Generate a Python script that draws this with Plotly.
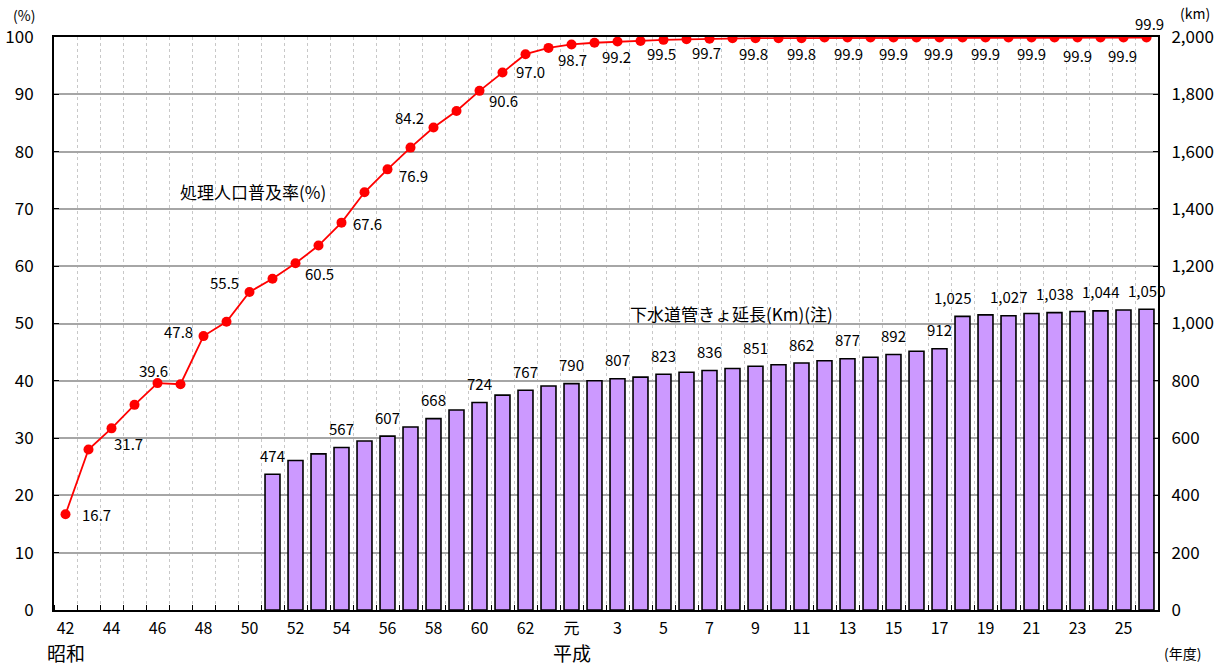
import plotly.graph_objects as go

# ---- data ----
categories = [str(y) for y in range(42, 64)] + ["元"] + [str(y) for y in range(2, 27)]

coverage_pct = [16.7, 28.0, 31.7, 35.8, 39.6, 39.4, 47.8, 50.3, 55.5, 57.8,
                60.5, 63.6, 67.6, 72.9, 76.9, 80.7, 84.2, 87.1, 90.6, 93.8,
                97.0, 98.1, 98.7, 99.0, 99.2, 99.3, 99.5, 99.6, 99.7, 99.8,
                99.8, 99.8, 99.8, 99.9, 99.9, 99.9, 99.9, 99.9, 99.9, 99.9,
                99.9, 99.9, 99.9, 99.9, 99.9, 99.9, 99.9, 99.9]

pipe_categories = [str(y) for y in range(51, 64)] + ["元"] + [str(y) for y in range(2, 27)]
pipe_km = [474, 522, 545, 567, 590, 607, 639, 668, 698, 724, 750, 767, 782,
           790, 800, 807, 813, 823, 830, 836, 843, 851, 856, 862, 870, 877,
           882, 892, 903, 912, 1025, 1030, 1027, 1035, 1038, 1042, 1044, 1047, 1050]

coverage_labeled = ["42", "44", "46", "48", "50", "52", "54", "56", "58", "60", "62",
                    "元", "3", "5", "7", "9", "11", "13", "15", "17", "19", "21", "23", "25", "26"]
pipe_labeled = ["51", "54", "56", "58", "60", "62", "元", "3", "5", "7", "9", "11",
                "13", "15", "17", "18", "20", "22", "24", "26"]

era_labels = {"42": "昭和", "元": "平成"}
line_name = "処理人口普及率(%)"
bar_name = "下水道管きょ延長(Km)(注)"

# ---- styling (label offsets in px) ----
coverage_offsets = [(31, 0), (17, -15), (-4, 13), (-25, 5), (-25, 9), (24, -10), (26, -1),
                    (26, -6), (-24, 10), (24, -10), (5, -17), (1, -15), (-1, -15), (-2, -14),
                    (-3, -14), (-2, -15), (0, -15), (1, -16), (0, -16), (-1, -16), (0, -16),
                    (0, -16), (0, -18), (-1, -18), (3, 14)]
pipe_xshift = {"18": -10}

FONT = "Noto Sans CJK JP"
idx = {c: i for i, c in enumerate(categories)}
x_all = list(range(len(categories)))
x_pipe = [idx[c] for c in pipe_categories]


def txt(size):
    return dict(size=size, color="black", family=FONT)


fig = go.Figure()
fig.add_trace(go.Bar(x=x_pipe, y=pipe_km, yaxis="y", width=0.65,
                     marker=dict(color="#CC99FF", line=dict(color="black", width=1.6)),
                     name=bar_name, showlegend=False, hoverinfo="x+y"))
fig.add_trace(go.Scatter(x=x_all, y=coverage_pct, yaxis="y2", mode="lines+markers",
                         line=dict(color="#FF0000", width=1.8),
                         marker=dict(color="#FF0000", size=10),
                         name=line_name, showlegend=False))

C = dict(showarrow=False, xanchor="center", yanchor="middle")
ann = []
for c, (dx, dy) in zip(coverage_labeled, coverage_offsets):
    i = idx[c]
    ann.append(dict(x=i, y=coverage_pct[i], xref="x", yref="y2", text=f"{coverage_pct[i]:.1f}",
                    xshift=dx, yshift=dy, font=txt(15), **C))
for c in pipe_labeled:
    j = pipe_categories.index(c)
    ann.append(dict(x=idx[c], y=pipe_km[j], xref="x", yref="y", text=f"{pipe_km[j]:,}",
                    xshift=pipe_xshift.get(c, 0), yshift=19, font=txt(15), **C))
for c, t in era_labels.items():
    ann.append(dict(x=idx[c], y=-0.075, xref="x", yref="paper", text=t, font=txt(19), **C))
ann += [
    dict(x=-0.027, y=1.038, xref="paper", yref="paper", text="(%)", font=txt(14), **C),
    dict(x=1.0335, y=1.042, xref="paper", yref="paper", text="(km)", font=txt(14), **C),
    dict(x=1.0226, y=-0.075, xref="paper", yref="paper", text="(年度)", font=txt(14), **C),
    dict(x=0.180, y=0.731, xref="paper", yref="paper", text=line_name, font=txt(17), **C),
    dict(x=0.614, y=0.518, xref="paper", yref="paper", text=bar_name, font=txt(17), **C),
]

fig.update_layout(
    width=1230, height=665,
    margin=dict(l=54, r=72, t=37, b=55, autoexpand=False),
    paper_bgcolor="white", plot_bgcolor="white",
    font=dict(family=FONT, size=15, color="black"),
    showlegend=False,
    bargap=0.35,
    annotations=ann,
    xaxis=dict(
        range=[-0.5, len(categories) - 0.5], automargin=False,
        tickmode="array", tickvals=x_all[::2], ticktext=categories[::2],
        ticks="", showgrid=False, zeroline=False,
        showline=True, linecolor="black", linewidth=2, mirror=True,
        tickfont=dict(size=16, family=FONT), ticklabelstandoff=3,
        minor=dict(tickmode="linear", tick0=-0.5, dtick=1, ticks="inside", ticklen=5,
                   tickcolor="black", showgrid=True, gridcolor="#c8c8c8",
                   griddash="dot", gridwidth=1),
    ),
    yaxis=dict(
        side="right", range=[0, 2000], dtick=200, tickformat=",", automargin=False,
        showgrid=True, gridcolor="#a6a6a6", gridwidth=1.5, zeroline=False,
        showline=True, linecolor="black", linewidth=2,
        ticks="inside", ticklen=5, tickcolor="black",
        tickfont=dict(size=17, family=FONT), ticklabelstandoff=8,
    ),
    yaxis2=dict(
        side="left", overlaying="y", range=[0, 100], dtick=10, automargin=False,
        showgrid=False, zeroline=False,
        showline=True, linecolor="black", linewidth=2,
        ticks="inside", ticklen=5, tickcolor="black",
        tickfont=dict(size=17, family=FONT), ticklabelstandoff=15,
    ),
)

fig.write_html("out.html", config={"displayModeBar": False},
               post_script="document.body.style.margin='0';document.body.style.overflow='hidden';")
